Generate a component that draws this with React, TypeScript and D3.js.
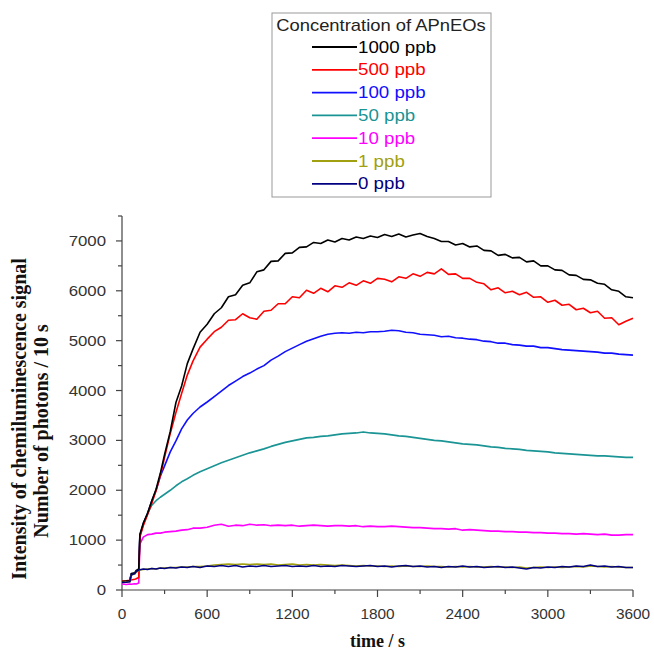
import React from "react";
import * as d3 from "d3";

const times = [0, 30, 55, 65, 90, 100, 118, 126, 150, 180, 210, 240, 270, 300, 340, 380, 420, 460, 500, 550, 600,
  650, 700, 750, 800, 850, 900, 950, 1000, 1050, 1100, 1150, 1200, 1250, 1300, 1350, 1400, 1450, 1500, 1550, 1600,
  1650, 1700, 1750, 1800, 1850, 1900, 1950, 2000, 2050, 2100, 2150, 2200, 2250, 2300, 2350, 2400, 2450, 2500, 2550, 2600,
  2650, 2700, 2750, 2800, 2850, 2900, 2950, 3000, 3050, 3100, 3150, 3200, 3250, 3300, 3350, 3400, 3450, 3500, 3550, 3600];

const ppb1000 = [170, 180, 185, 330, 345, 390, 420, 1120, 1340, 1540, 1790, 2020, 2340, 2720, 3180, 3760, 4090, 4540, 4830, 5170, 5330,
  5540, 5660, 5880, 5920, 6110, 6160, 6380, 6420, 6590, 6600, 6750, 6760, 6870, 6880, 6970, 6950, 7020, 6980, 7050, 7020,
  7080, 7050, 7100, 7070, 7130, 7090, 7140, 7080, 7120, 7150, 7090, 7050, 6990, 6990, 6920, 6950, 6880, 6900, 6810, 6800,
  6710, 6730, 6660, 6670, 6580, 6600, 6500, 6500, 6420, 6410, 6320, 6310, 6230, 6220, 6150, 6130, 6020, 5990, 5880, 5860];

const ppb500 = [180, 185, 195, 200, 215, 225, 250, 1060, 1290, 1510, 1740, 1990, 2290, 2660, 3140, 3560, 3940, 4310, 4590, 4870, 5030,
  5180, 5270, 5410, 5420, 5540, 5460, 5430, 5590, 5610, 5740, 5740, 5880, 5860, 6010, 5950, 6050, 5980, 6100, 6070, 6160,
  6110, 6200, 6150, 6250, 6230, 6180, 6280, 6250, 6340, 6290, 6370, 6340, 6440, 6330, 6340, 6250, 6250, 6170, 6140, 6020,
  6060, 5960, 5990, 5920, 5970, 5870, 5880, 5770, 5810, 5710, 5730, 5620, 5650, 5560, 5590, 5450, 5460, 5320, 5390, 5450];

const ppb100 = [160, 170, 180, 320, 335, 370, 400, 1090, 1330, 1530, 1790, 2000, 2280, 2490, 2770, 2990, 3230, 3410, 3540, 3670, 3770,
  3880, 3990, 4100, 4190, 4280, 4350, 4430, 4500, 4610, 4690, 4780, 4850, 4920, 4990, 5040, 5090, 5130, 5150, 5160, 5150,
  5170, 5160, 5180, 5180, 5190, 5210, 5200, 5170, 5160, 5130, 5120, 5110, 5080, 5090, 5060, 5050, 5030, 5020, 4990, 4980,
  4950, 4950, 4920, 4910, 4890, 4890, 4860, 4860, 4840, 4820, 4810, 4800, 4790, 4780, 4770, 4750, 4750, 4730, 4720, 4710];

const ppb50 = [160, 165, 175, 310, 330, 360, 390, 1080, 1320, 1540, 1700, 1790, 1860, 1920, 2000, 2090, 2170, 2230, 2300, 2370, 2430,
  2490, 2550, 2600, 2650, 2700, 2750, 2790, 2830, 2880, 2920, 2960, 2990, 3020, 3050, 3060, 3080, 3090, 3110, 3130, 3140,
  3150, 3170, 3150, 3140, 3130, 3110, 3090, 3080, 3060, 3040, 3020, 3000, 2990, 2970, 2950, 2930, 2920, 2910, 2890, 2870,
  2860, 2840, 2830, 2820, 2800, 2790, 2780, 2770, 2750, 2740, 2730, 2720, 2710, 2700, 2690, 2690, 2680, 2670, 2660, 2660];

const ppb10 = [120, 110, 120, 115, 125, 120, 140, 920, 1060, 1110, 1120, 1140, 1140, 1160, 1170, 1180, 1200, 1210, 1240, 1240, 1260,
  1300, 1320, 1280, 1300, 1290, 1320, 1300, 1310, 1290, 1300, 1290, 1300, 1280, 1290, 1300, 1290, 1280, 1290, 1290, 1280,
  1290, 1270, 1280, 1270, 1270, 1280, 1270, 1260, 1250, 1250, 1240, 1230, 1230, 1220, 1230, 1200, 1210, 1200, 1190, 1180,
  1180, 1170, 1170, 1160, 1160, 1150, 1150, 1140, 1140, 1130, 1130, 1120, 1130, 1120, 1110, 1120, 1100, 1100, 1110, 1110];

const ppb1 = [150, 160, 165, 300, 320, 360, 390, 400, 410, 420, 430, 420, 440, 440, 450, 450, 460, 460, 470, 470, 480,
  500, 510, 520, 510, 520, 510, 520, 510, 520, 500, 510, 520, 500, 510, 500, 510, 500, 490, 500, 490,
  480, 490, 480, 480, 470, 480, 470, 480, 470, 470, 480, 470, 470, 460, 470, 460, 470, 460, 460, 470,
  460, 460, 450, 460, 440, 450, 460, 450, 460, 450, 460, 470, 460, 480, 470, 460, 470, 460, 450, 450];

const ppb0 = [150, 155, 165, 300, 330, 370, 400, 405, 420, 410, 430, 420, 440, 430, 450, 440, 460, 450, 470, 450, 480,
  470, 490, 470, 490, 460, 480, 470, 490, 470, 480, 490, 470, 480, 470, 490, 470, 480, 470, 490, 480,
  470, 480, 490, 470, 480, 460, 480, 490, 470, 480, 460, 470, 450, 470, 460, 480, 460, 470, 450, 460,
  470, 450, 460, 440, 420, 450, 440, 460, 450, 470, 460, 480, 470, 500, 470, 480, 460, 470, 450, 450];

const legendLabels = ["1000 ppb", "500 ppb", "100 ppb", "50 ppb", "10 ppb", "1 ppb", "0 ppb"];
const seriesColors = ["#000000", "#ff0000", "#1010ff", "#1a9494", "#ff00ff", "#a0a010", "#000080"];
const seriesValues = [ppb1000, ppb500, ppb100, ppb50, ppb10, ppb1, ppb0];

const xTicks = [0, 600, 1200, 1800, 2400, 3000, 3600];
const yTicks = [0, 1000, 2000, 3000, 4000, 5000, 6000, 7000];

const sans = "Liberation Sans, Arial";
const serif = "Liberation Serif, Times New Roman";

export default function App() {
  const x = d3.scaleLinear().domain([0, 3600]).range([122, 633]);
  const y = d3.scaleLinear().domain([0, 7500]).range([590, 216]);
  const line = d3.line<number>().x((_, i) => x(times[i])).y((d) => y(d));

  const minorX = d3.range(300, 3600, 600);
  const minorY = d3.range(500, 7600, 1000);
  // low series first, then 1 ppb and 0 ppb so navy ends on top
  const drawOrder = [4, 3, 2, 1, 0, 5, 6];

  return (
    <svg width={654} height={652} style={{ position: "absolute", left: 0, top: 0, background: "#fff" }}>
      <line x1={x(0)} x2={x(0)} y1={y(0)} y2={y(7500)} stroke="#444" strokeWidth={1.2} />
      <line x1={x(0)} x2={x(3600)} y1={y(0)} y2={y(0)} stroke="#444" strokeWidth={1.2} />
      {yTicks.map((t) => (
        <g key={"y" + t}>
          <line x1={x(0) - 6} x2={x(0)} y1={y(t)} y2={y(t)} stroke="#444" strokeWidth={1.2} />
          <text transform={`translate(${x(0) - 16},${y(t) + 5}) scale(1.2,1)`} textAnchor="end" fontFamily={sans} fontSize={14} fill="#333">
            {t}
          </text>
        </g>
      ))}
      {minorY.map((t) => (
        <line key={"my" + t} x1={x(0) - 4} x2={x(0)} y1={y(t)} y2={y(t)} stroke="#444" strokeWidth={1.2} />
      ))}
      {xTicks.map((t) => (
        <g key={"x" + t}>
          <line x1={x(t)} x2={x(t)} y1={y(0)} y2={y(0) + 7} stroke="#444" strokeWidth={1.2} />
          <text transform={`translate(${x(t)},${y(0) + 29}) scale(1.1,1)`} textAnchor="middle" fontFamily={sans} fontSize={14} fill="#333">
            {t}
          </text>
        </g>
      ))}
      {minorX.map((t) => (
        <line key={"mx" + t} x1={x(t)} x2={x(t)} y1={y(0)} y2={y(0) + 4} stroke="#444" strokeWidth={1.2} />
      ))}

      {drawOrder.map((k) => (
        <path key={"s" + k} d={line(seriesValues[k]) || ""} fill="none" stroke={seriesColors[k]} strokeWidth={1.6} strokeLinejoin="round" />
      ))}

      <text x={x(1800)} y={647} textAnchor="middle" fontFamily={serif} fontWeight="bold" fontSize={18} fill="#111">
        time / s
      </text>
      <text transform="translate(26,419) rotate(-90)" textAnchor="middle" fontFamily={serif} fontWeight="bold" fontSize={20} fill="#111">
        Intensity of chemiluminescence signal
      </text>
      <text transform="translate(48,431) rotate(-90)" textAnchor="middle" fontFamily={serif} fontWeight="bold" fontSize={20} fill="#111">
        Number of photons / 10 s
      </text>

      <rect x={272} y={13} width={219} height={184} fill="#fff" stroke="#999" strokeWidth={1} />
      <text transform="translate(381,31) scale(1.15,1)" textAnchor="middle" fontFamily={sans} fontSize={16} fill="#222">
        Concentration of APnEOs
      </text>
      {legendLabels.map((lab, i) => {
        const cy = 47 + i * 22.8;
        return (
          <g key={lab}>
            <line x1={312} x2={357} y1={cy} y2={cy} stroke={seriesColors[i]} strokeWidth={1.8} />
            <text transform={`translate(358,${cy + 5.5}) scale(1.17,1)`} fontFamily={sans} fontSize={16} fill={seriesColors[i]}>
              {lab}
            </text>
          </g>
        );
      })}
    </svg>
  );
}
